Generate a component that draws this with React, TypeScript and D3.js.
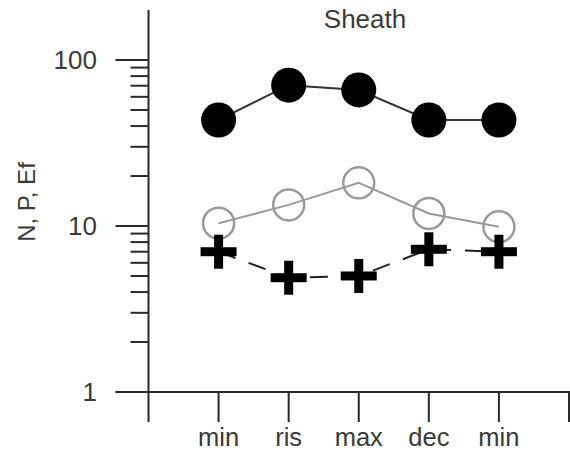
import React from "react";
import * as d3 from "d3";

const categories = ["min", "ris", "max", "dec", "min"];
const seriesN = [43.5, 70.5, 66, 43.5, 43.5]; // filled black circles
const seriesP = [10.4, 13.4, 18.2, 11.9, 9.9]; // open grey circles
const seriesEf = [7.0, 4.88, 5.0, 7.24, 7.0]; // plus markers
const majorTicks = [1, 10, 100];
const minorTicks = [2, 3, 4, 5, 6, 7, 8, 9, 20, 30, 40, 50, 60, 70, 80, 90];
const title = "Sheath";
const yTitle = "N, P, Ef";

const W = 570;
const H = 452;
const FONT = "'Liberation Sans', Arial, sans-serif";

export default function App() {
  const x = d3.scaleLinear().domain([0, 6]).range([148.5, 569]);
  const y = d3.scaleLog().domain([1, 100]).range([392, 60]);
  const yTop = y(200);
  const axisBottom = 422;
  const idx = categories.map((_, i) => i + 1);
  const line = d3
    .line<number>()
    .x((_, i) => x(idx[i]))
    .y((d) => y(d));
  const axisColor = "#2a2a2a";
  const textColor = "#3a3a3a";

  return (
    <svg
      width={W}
      height={H}
      style={{ position: "absolute", left: 0, top: 0, background: "#fff" }}
    >
      {/* y axis */}
      <line x1={x(0)} x2={x(0)} y1={yTop} y2={axisBottom} stroke={axisColor} strokeWidth={2} />
      {majorTicks.map((t) => (
        <g key={"M" + t}>
          <line x1={x(0) - 33} x2={x(0)} y1={y(t)} y2={y(t)} stroke={axisColor} strokeWidth={2} />
          <text
            x={97}
            y={y(t)}
            dy="0.36em"
            textAnchor="end"
            fontFamily={FONT}
            fontSize={26}
            fill={textColor}
          >
            {t}
          </text>
        </g>
      ))}
      {minorTicks.map((t) => (
        <line
          key={"m" + t}
          x1={x(0) - 18}
          x2={x(0)}
          y1={y(t)}
          y2={y(t)}
          stroke={axisColor}
          strokeWidth={2}
        />
      ))}
      {/* x axis */}
      <line x1={x(0) - 33} x2={W} y1={y(1)} y2={y(1)} stroke={axisColor} strokeWidth={2} />
      {d3.range(1, 7).map((i) => (
        <line
          key={"xt" + i}
          x1={x(i)}
          x2={x(i)}
          y1={y(1)}
          y2={axisBottom}
          stroke={axisColor}
          strokeWidth={2}
        />
      ))}
      {categories.map((c, i) => (
        <text
          key={"xl" + i}
          x={x(idx[i])}
          y={446}
          textAnchor="middle"
          fontFamily={FONT}
          fontSize={25.5}
          fill={textColor}
        >
          {c}
        </text>
      ))}
      {/* titles */}
      <text x={365} y={28} textAnchor="middle" fontFamily={FONT} fontSize={26} fill={textColor}>
        {title}
      </text>
      <text
        transform={`translate(35, 202) rotate(-90)`}
        textAnchor="middle"
        fontFamily={FONT}
        fontSize={24}
        fill={textColor}
      >
        {yTitle}
      </text>

      {/* P series: grey open circles */}
      <path d={line(seriesP) || ""} fill="none" stroke="#9a9a9a" strokeWidth={2} />
      {seriesP.map((v, i) => (
        <circle
          key={"p" + i}
          cx={x(idx[i])}
          cy={y(v)}
          r={15.5}
          fill="none"
          stroke="#9a9a9a"
          strokeWidth={2.5}
        />
      ))}

      {/* N series: black filled circles */}
      <path d={line(seriesN) || ""} fill="none" stroke="#333" strokeWidth={2} />
      {seriesN.map((v, i) => (
        <circle key={"n" + i} cx={x(idx[i])} cy={y(v)} r={17.5} fill="#000" />
      ))}

      {/* Ef series: plus markers, dashed line */}
      <path
        d={line(seriesEf) || ""}
        fill="none"
        stroke="#222"
        strokeWidth={2}
        strokeDasharray="18,14"
      />
      {seriesEf.map((v, i) => {
        const cx = x(idx[i]);
        const cy = y(v);
        return (
          <g key={"e" + i}>
            <rect x={cx - 18} y={cy - 4.5} width={36} height={9} fill="#000" />
            <rect x={cx - 4.5} y={cy - 17} width={9} height={34} fill="#000" />
          </g>
        );
      })}
    </svg>
  );
}
